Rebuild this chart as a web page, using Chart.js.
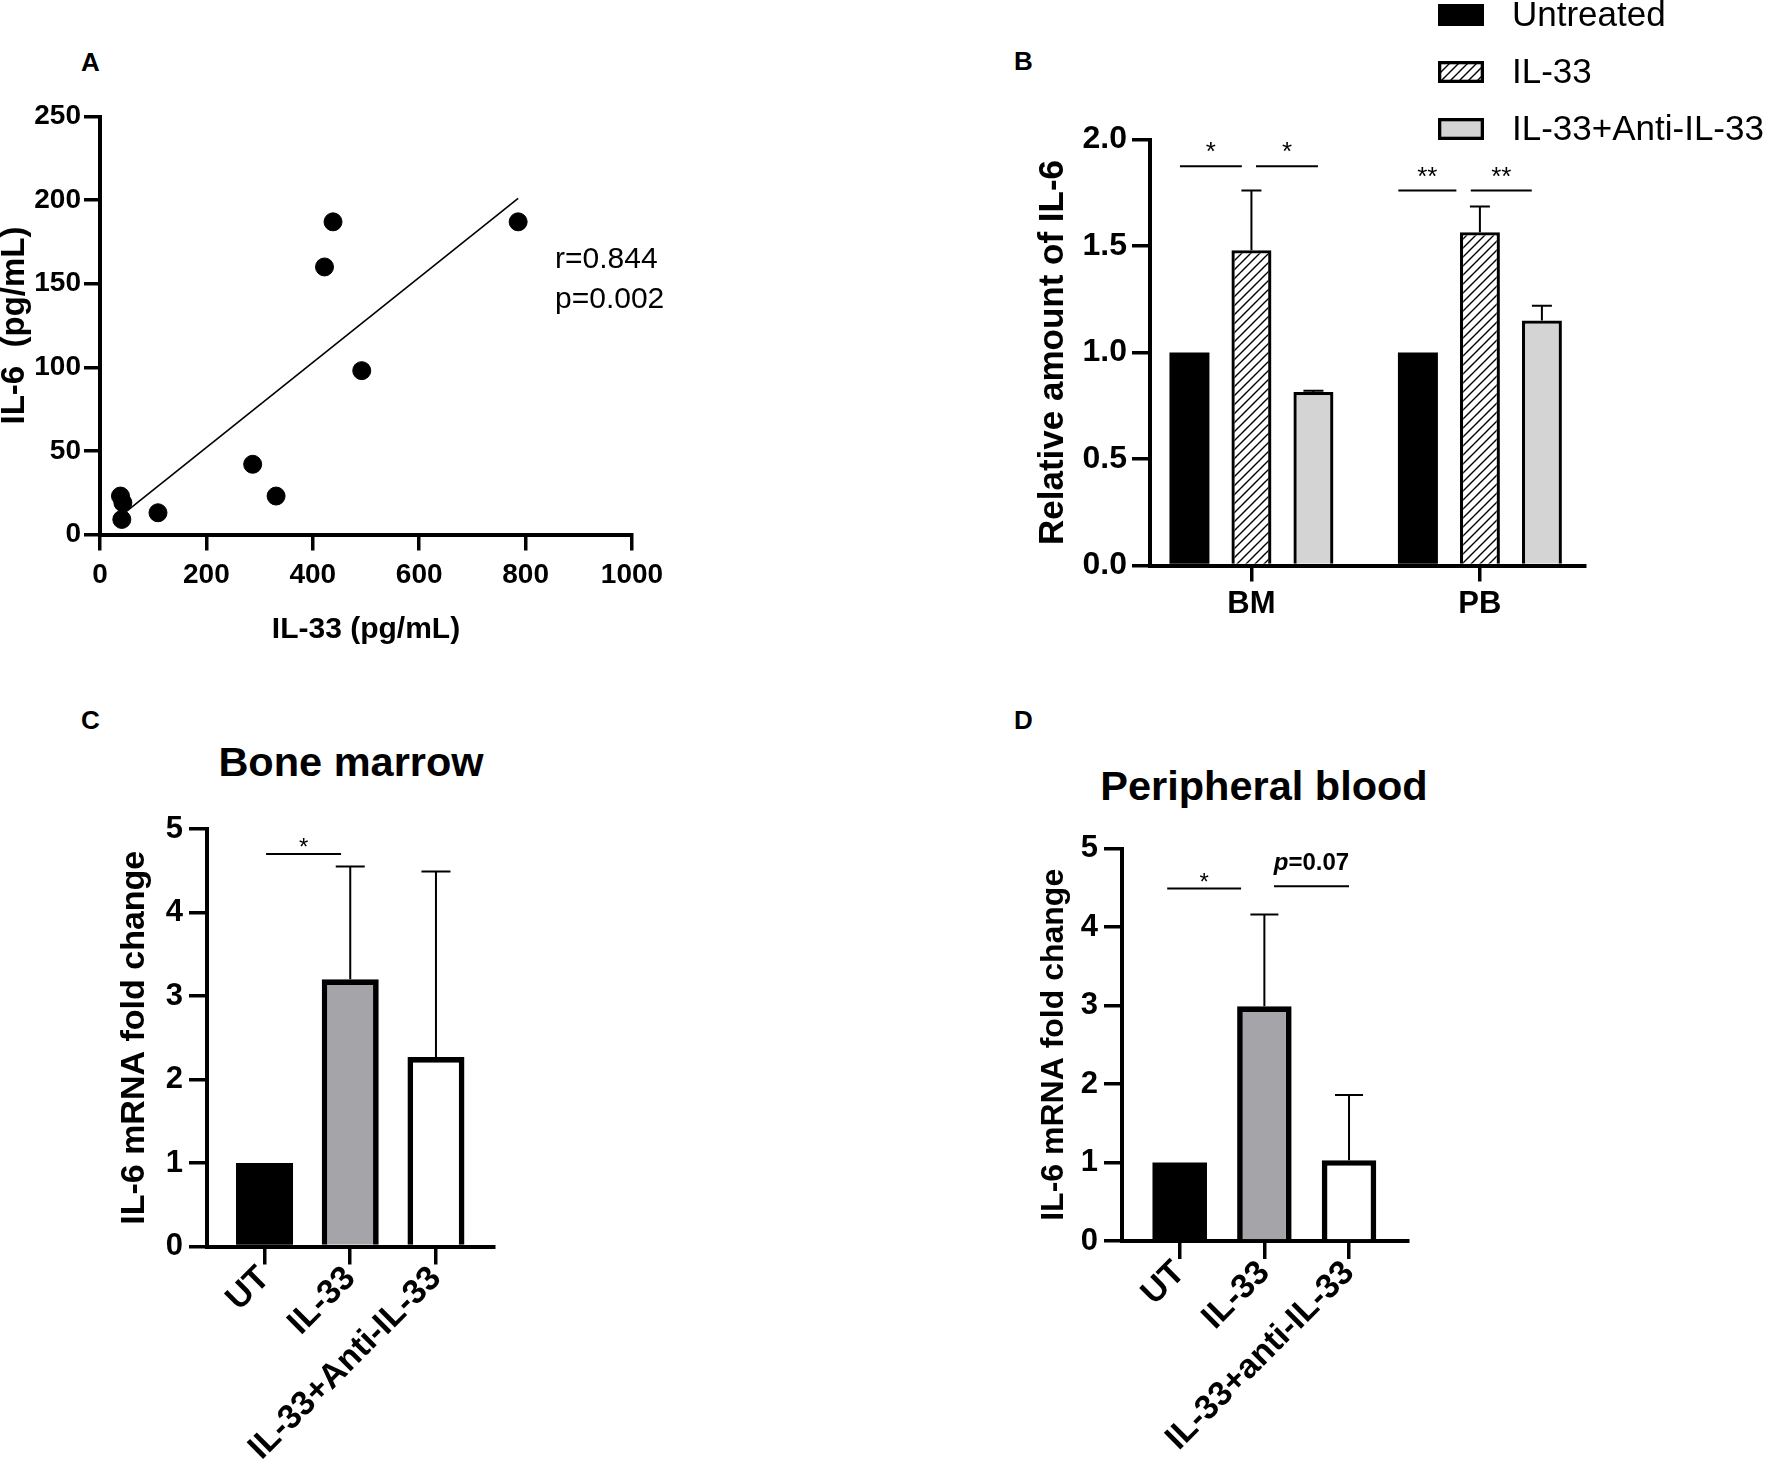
<!DOCTYPE html>
<html>
<head>
<meta charset="utf-8">
<script src="https://cdn.jsdelivr.net/npm/chart.js@4.4.1/dist/chart.umd.min.js"></script>
<style>
html, body { margin: 0; padding: 0; background: #fff; overflow: hidden; }
body { width: 1772px; height: 1460px; position: relative; font-family: 'Liberation Sans', Arial, sans-serif; color: #000; }
canvas { position: absolute; }
.lbl { position: absolute; font-weight: bold; font-size: 26px; line-height: 1; transform: translateY(-50%); }
.ttl { position: absolute; font-weight: bold; font-size: 41.5px; line-height: 1; white-space: nowrap; transform: translate(-50%, -50%); }
.note { position: absolute; font-size: 30px; line-height: 40px; white-space: nowrap; }
</style>
</head>
<body>
<canvas id="cA"></canvas>
<canvas id="cB"></canvas>
<canvas id="cC"></canvas>
<canvas id="cD"></canvas>

<div class="lbl" style="left:81px;top:62px">A</div>
<div class="lbl" style="left:1014px;top:61px">B</div>
<div class="lbl" style="left:81px;top:720px">C</div>
<div class="lbl" style="left:1014px;top:720px">D</div>
<div class="ttl" style="left:351px;top:762px">Bone marrow</div>
<div class="ttl" style="left:1264px;top:786px">Peripheral blood</div>
<div class="note" style="left:555px;top:238px">r=0.844<br>p=0.002</div>

<script>
// Panel A: IL-33 vs IL-6 in serum
const il33 = [38.5, 43, 41, 109, 287, 331, 422, 438, 492, 786];
const il6 = [23, 19, 9, 13, 42, 23, 160, 187, 98, 187];
const fitX = [38.5, 786];
const fitY = [11, 201];

// Panel B: relative IL-6
const groupsB = ['BM', 'PB'];
const seriesB = ['Untreated', 'IL-33', 'IL-33+Anti-IL-33'];
const untreatedB = [1.0, 1.0];
const il33B = [1.48, 1.565];
const antiB = [0.815, 1.15];
const il33ErrB = [1.76, 1.685];
const antiErrB = [0.82, 1.22];
const sigB = [
    { from: -0.313, to: -0.042, y: 1.875, text: '*' },
    { from: 0.020, to: 0.291, y: 1.875, text: '*' },
    { from: 0.643, to: 0.897, y: 1.76, text: '**' },
    { from: 0.960, to: 1.227, y: 1.76, text: '**' }
];

// Panel C: bone marrow mRNA
const catsC = ['UT', 'IL-33', 'IL-33+Anti-IL-33'];
const foldC = [1.0, 3.2, 2.27];
const errC = [null, 4.55, 4.49];
const sigC = [{ from: 0.018, to: 0.893, y: 4.70, text: '*' }];

// Panel D: peripheral blood mRNA
const catsD = ['UT', 'IL-33', 'IL-33+anti-IL-33'];
const foldD = [1.0, 2.99, 1.03];
const errD = [null, 4.16, 1.86];
const sigD = [
    { from: -0.148, to: 0.725, y: 4.49, text: '*' },
    { from: 1.114, to: 2.0, y: 4.52, text: 'p=0.07' }
];

Chart.defaults.font.family = "'Liberation Sans', Arial, sans-serif";
Chart.defaults.color = '#000';

// canvas placement so that the plot area lands where the reference has it
function place(id, g) {
    const cv = document.getElementById(id);
    const left = Math.round(g.titleX - g.titleSize / 2);
    const top = Math.round(g.t - g.padTop);
    const W = Math.round(g.r + g.padRight - left);
    const H = Math.round(g.bottom - top);
    cv.style.left = left + 'px';
    cv.style.top = top + 'px';
    cv.width = W;
    cv.height = H;
    return {
        cv: cv,
        padding: { left: 0, top: g.t - top, right: W - (g.r - left), bottom: 0 },
        yW: g.l - left,
        xH: H - (g.b - top)
    };
}

function axis(o) {
    return {
        type: 'linear', min: o.min, max: o.max, offset: false,
        border: { display: true, color: '#000', width: 4 },
        grid: { display: true, drawOnChartArea: false, drawTicks: true, tickLength: o.tick, lineWidth: 3.5, color: '#000', offset: false },
        ticks: {
            font: { size: o.size, weight: 'bold' }, padding: o.pad, stepSize: o.step,
            autoSkip: false, maxRotation: o.rot || 0, minRotation: o.rot || 0,
            callback: o.fmt
        },
        title: o.title ? { display: true, text: o.title, padding: 0, font: { size: o.titleSize, weight: 'bold', lineHeight: 1 } } : { display: false },
        afterBuildTicks: o.ticksAt ? function(s) { s.ticks = o.ticksAt.map(function(v) { return { value: v }; }); } : undefined,
        afterFit: o.fit
    };
}

const errorBars = {
    id: 'errorBars',
    afterDatasetsDraw(chart, args, opts) {
        const ctx = chart.ctx, y = chart.scales.y;
        chart.data.datasets.forEach(function(ds, di) {
            if (!ds.errTop) return;
            chart.getDatasetMeta(di).data.forEach(function(bar, i) {
                const top = ds.errTop[i];
                if (top == null) return;
                const yT = y.getPixelForValue(top);
                ctx.save();
                ctx.strokeStyle = '#000';
                ctx.lineWidth = opts.width;
                ctx.beginPath();
                ctx.moveTo(bar.x, bar.y);
                ctx.lineTo(bar.x, yT);
                ctx.moveTo(bar.x - opts.cap / 2, yT);
                ctx.lineTo(bar.x + opts.cap / 2, yT);
                ctx.stroke();
                ctx.restore();
            });
        });
    }
};

const brackets = {
    id: 'brackets',
    afterDatasetsDraw(chart, args, opts) {
        const ctx = chart.ctx, x = chart.scales.x, y = chart.scales.y;
        opts.items.forEach(function(b) {
            const x0 = x.getPixelForValue(b.from), x1 = x.getPixelForValue(b.to), yy = y.getPixelForValue(b.y);
            const cx = (x0 + x1) / 2;
            ctx.save();
            ctx.strokeStyle = '#000';
            ctx.lineWidth = 2;
            ctx.beginPath();
            ctx.moveTo(x0, yy);
            ctx.lineTo(x1, yy);
            ctx.stroke();
            ctx.fillStyle = '#000';
            ctx.textBaseline = 'alphabetic';
            if (b.text.indexOf('p=') === 0) {
                const f = opts.pSize + "px 'Liberation Sans', Arial, sans-serif";
                ctx.font = 'italic bold ' + f;
                const w1 = ctx.measureText('p').width;
                ctx.font = 'bold ' + f;
                const rest = b.text.slice(1);
                const w2 = ctx.measureText(rest).width;
                let sx = cx - (w1 + w2) / 2;
                ctx.textAlign = 'left';
                ctx.font = 'italic bold ' + f;
                ctx.fillText('p', sx, yy - opts.pLift);
                ctx.font = 'bold ' + f;
                ctx.fillText(rest, sx + w1, yy - opts.pLift);
            } else {
                ctx.font = opts.starSize + "px 'Liberation Sans', Arial, sans-serif";
                ctx.textAlign = 'center';
                ctx.fillText(b.text, cx, yy - opts.starLift);
            }
            ctx.restore();
        });
    }
};

const boxLegend = {
    id: 'boxLegend',
    afterDraw(chart, args, opts) {
        const ctx = chart.ctx, area = chart.chartArea;
        chart.data.datasets.forEach(function(ds, i) {
            const bx = area.right + opts.dx, by = area.top + opts.dy + i * opts.gap;
            ctx.save();
            ctx.fillStyle = ds.backgroundColor;
            ctx.fillRect(bx, by, opts.w, opts.h);
            if (ds.borderWidth) {
                const lw = ds.borderWidth;
                ctx.lineWidth = lw;
                ctx.strokeStyle = '#000';
                ctx.strokeRect(bx + lw / 2, by + lw / 2, opts.w - lw, opts.h - lw);
            }
            ctx.fillStyle = '#000';
            ctx.font = opts.size + "px 'Liberation Sans', Arial, sans-serif";
            ctx.textAlign = 'left';
            ctx.textBaseline = 'middle';
            ctx.fillText(ds.label, bx + opts.w + opts.textGap, by + opts.h / 2 + 1);
            ctx.restore();
        });
    }
};

function hatch() {
    const s = 9;
    const c = document.createElement('canvas');
    c.width = s; c.height = s;
    const g = c.getContext('2d');
    g.fillStyle = '#fff';
    g.fillRect(0, 0, s, s);
    g.strokeStyle = '#000';
    g.lineWidth = 1.4;
    g.beginPath();
    g.moveTo(0, s); g.lineTo(s, 0);
    g.moveTo(-1, 1); g.lineTo(1, -1);
    g.moveTo(s - 1, s + 1); g.lineTo(s + 1, s - 1);
    g.stroke();
    return g.createPattern(c, 'repeat');
}

const base = { responsive: false, animation: false, events: [] };
const noLegend = { legend: { display: false }, tooltip: { enabled: false } };

// ---- A ----
const pA = place('cA', { l: 100, r: 632, t: 116.5, b: 534.5, titleX: 14, titleSize: 33, bottom: 645, padTop: 30, padRight: 150 });
new Chart(pA.cv, {
    type: 'scatter',
    data: {
        datasets: [
            { data: il33.map(function(x, i) { return { x: x, y: il6[i] }; }), backgroundColor: '#000', borderColor: '#000', pointRadius: 9 },
            { type: 'line', data: fitX.map(function(x, i) { return { x: x, y: fitY[i] }; }), borderColor: '#000', borderWidth: 1.6, pointRadius: 0, fill: false }
        ]
    },
    options: Object.assign({}, base, {
        layout: { padding: pA.padding },
        plugins: noLegend,
        scales: {
            x: axis({ min: 0, max: 1000, step: 200, tick: 16, size: 28, pad: 8, fmt: function(v) { return String(v); },
                      title: 'IL-33 (pg/mL)', titleSize: 30, fit: function(s) { s.height = pA.xH; } }),
            y: axis({ min: 0, max: 250, step: 50, tick: 16, size: 28, pad: 3, fmt: function(v) { return String(v); },
                      title: 'IL-6  (pg/mL)', titleSize: 33, fit: function(s) { s.width = pA.yW; } })
        }
    })
});

// ---- B ----
const pB = place('cB', { l: 1150, r: 1585, t: 139.5, b: 565.5, titleX: 1053.6, titleSize: 35, bottom: 760, padTop: 139.5, padRight: 187 });
const pts = function(vals) { return vals.map(function(v, i) { return { x: i, y: v }; }); };
new Chart(pB.cv, {
    type: 'bar',
    data: {
        datasets: [
            { label: seriesB[0], data: pts(untreatedB), backgroundColor: '#000', borderColor: '#000', borderWidth: 0 },
            { label: seriesB[1], data: pts(il33B), errTop: il33ErrB, backgroundColor: hatch(), borderColor: '#000', borderWidth: 3.3 },
            { label: seriesB[2], data: pts(antiB), errTop: antiErrB, backgroundColor: '#d4d4d4', borderColor: '#000', borderWidth: 3.3 }
        ]
    },
    options: Object.assign({}, base, {
        layout: { padding: pB.padding },
        categoryPercentage: 0.814,
        barPercentage: 0.645,
        plugins: Object.assign({}, noLegend, {
            errorBars: { width: 2, cap: 20 },
            brackets: { items: sigB, starSize: 26, starLift: 6 },
            boxLegend: { dx: -147, dy: -135.5, gap: 57, w: 46, h: 22, textGap: 28, size: 35 }
        }),
        scales: {
            x: axis({ min: -0.444, max: 1.46, tick: 16, size: 31, pad: 4, ticksAt: [0, 1],
                      fmt: function(v) { return groupsB[Math.round(v)]; }, fit: function(s) { s.height = pB.xH; } }),
            y: axis({ min: 0, max: 2, step: 0.5, tick: 18, size: 32, pad: 5, fmt: function(v) { return v.toFixed(1); },
                      title: 'Relative amount of IL-6', titleSize: 35, fit: function(s) { s.width = pB.yW; } })
        }
    }),
    plugins: [errorBars, brackets, boxLegend]
});

// ---- C & D ----
function foldChart(id, g, cats, vals, errs, sig, xr, barPct, cap) {
    const p = place(id, g);
    new Chart(p.cv, {
        type: 'bar',
        data: {
            datasets: [{
                data: pts(vals), errTop: errs,
                backgroundColor: ['#000', '#a4a4a9', '#fff'], borderColor: '#000', borderWidth: [0, 5.7, 5.7]
            }]
        },
        options: Object.assign({}, base, {
            layout: { padding: p.padding },
            categoryPercentage: 1,
            barPercentage: barPct,
            plugins: Object.assign({}, noLegend, {
                errorBars: { width: 2, cap: cap },
                brackets: { items: sig, starSize: 24, starLift: -1, pSize: 24, pLift: 16 }
            }),
            scales: {
                x: axis({ min: xr[0], max: xr[1], tick: 18, size: 34, pad: -6, rot: 45, ticksAt: [0, 1, 2],
                          fmt: function(v) { return cats[Math.round(v)]; }, fit: function(s) { s.height = p.xH; } }),
                y: axis({ min: 0, max: 5, step: 1, tick: 18, size: 31, pad: 6, fmt: function(v) { return String(v); },
                          title: 'IL-6 mRNA fold change', titleSize: g.titleSize, fit: function(s) { s.width = p.yW; } })
            }
        }),
        plugins: [errorBars, brackets]
    });
}

foldChart('cC', { l: 207, r: 494, t: 829, b: 1246.5, titleX: 135, titleSize: 34, bottom: 1460, padTop: 30, padRight: 60 },
    catsC, foldC, errC, sigC, [-0.671, 2.677], 0.665, 29);
foldChart('cD', { l: 1122, r: 1407.6, t: 848.6, b: 1241, titleX: 1053.6, titleSize: 32, bottom: 1460, padTop: 30, padRight: 60 },
    catsD, foldD, errD, sigD, [-0.682, 2.692], 0.644, 28);
</script>
</body>
</html>
